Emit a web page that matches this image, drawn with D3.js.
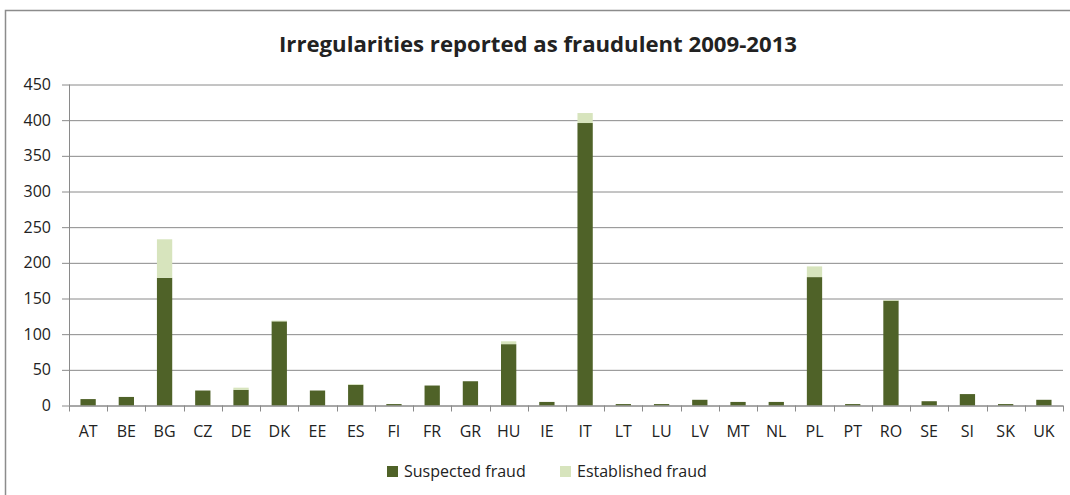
<!DOCTYPE html>
<html><head><meta charset="utf-8">
<script src="https://cdn.jsdelivr.net/npm/d3@7"></script>
<style>
html,body{margin:0;padding:0;background:#fff;}
svg{display:block;}
text{font-family:"Open Sans","DejaVu Sans",sans-serif;fill:#222;}
</style></head>
<body>
<svg id="chart" width="1070" height="495"></svg>
<script>
const categories = ["AT","BE","BG","CZ","DE","DK","EE","ES","FI","FR","GR","HU","IE","IT","LT","LU","LV","MT","NL","PL","PT","RO","SE","SI","SK","UK"];
const suspected = [9,12,179,21,22,118,21,29,2,28,34,86,5,396,2,2,8,5,5,180,2,147,6,16,2,8];
const established = [0,0,54,0,3,1,0,1,0,0,0,4,0,14,0,0,0,0,0,15,0,1,0,0,0,0];
const seriesNames = ["Suspected fraud","Established fraud"];
const seriesColors = ["#4F6228","#D7E4BD"];
const yTicks = [0,50,100,150,200,250,300,350,400,450];
const title = "Irregularities reported as fraudulent 2009-2013";

const svg = d3.select("#chart");
const margin = {left:69, right:7, top:84.5, bottom:89.5};
const W = 1070, H = 495;
const x0 = margin.left, x1 = W - margin.right;
const y0 = H - margin.bottom, y1 = margin.top;

// frame
svg.append("path").attr("d", `M5.5,${H+2} L5.5,10.5 L${W+2},10.5`)
  .attr("fill","none").attr("stroke","#8c8c8c").attr("stroke-width",1.5);

svg.append("text").attr("x",538).attr("y",52).attr("text-anchor","middle")
  .attr("font-size",21).attr("font-weight","bold").attr("textLength",518).attr("lengthAdjust","spacingAndGlyphs")
  .attr("fill","#111")
  .text(title);

const x = d3.scaleBand().domain(categories).range([x0,x1]).paddingInner(0.6).paddingOuter(0.3);
const y = d3.scaleLinear().domain([0,450]).range([y0,y1]);

// gridlines + y axis
const yAxis = d3.axisLeft(y).tickValues(yTicks).tickSize(-(x1-x0)).tickPadding(18);
const gy = svg.append("g").attr("transform",`translate(${x0},0)`).call(yAxis);
gy.select(".domain").remove();
gy.selectAll(".tick line").attr("stroke","#8a8a8a").attr("stroke-width",1);
gy.selectAll(".tick text").attr("font-size",16).attr("fill","#222");
gy.attr("font-family",null).attr("font-size",null);
// small tick marks left of axis
gy.selectAll(".tick").append("line").attr("x1",-7).attr("x2",0).attr("stroke","#8a8a8a");

// y axis line
svg.append("line").attr("x1",x0+0.5).attr("x2",x0+0.5).attr("y1",y1).attr("y2",y0).attr("stroke","#8a8a8a");

// stacked bars
const data = categories.map((c,i)=>({cat:c, s:suspected[i], e:established[i]}));
const stack = d3.stack().keys(["s","e"])(data);
stack.forEach((layer,li)=>{
  svg.append("g").selectAll("rect").data(layer).join("rect")
    .attr("x",d=>x(d.data.cat)).attr("width",x.bandwidth())
    .attr("y",d=>y(d[1])).attr("height",d=>Math.max(0,y(d[0])-y(d[1])))
    .attr("fill",seriesColors[li]);
});

// x axis
const bounds = d3.range(categories.length+1).map(i=>x0 + i*(x1-x0)/categories.length);
svg.append("line").attr("x1",x0).attr("x2",x1).attr("y1",y0+0.5).attr("y2",y0+0.5).attr("stroke","#8a8a8a");
svg.append("g").selectAll("line").data(bounds).join("line")
  .attr("x1",d=>Math.round(d)+0.5).attr("x2",d=>Math.round(d)+0.5).attr("y1",y0).attr("y2",y0+6).attr("stroke","#8a8a8a");
svg.append("g").selectAll("text").data(categories).join("text")
  .attr("x",d=>x(d)+x.bandwidth()/2).attr("y",y0+31).attr("text-anchor","middle")
  .attr("font-size",16).text(d=>d);

// legend
const leg = svg.append("g");
const legX = [387, 560];
seriesNames.forEach((n,i)=>{
  leg.append("rect").attr("x",legX[i]).attr("y",466).attr("width",11).attr("height",11).attr("fill",seriesColors[i]);
  leg.append("text").attr("x",legX[i]+17).attr("y",477).attr("font-size",16).text(n);
});
</script>
</body></html>
